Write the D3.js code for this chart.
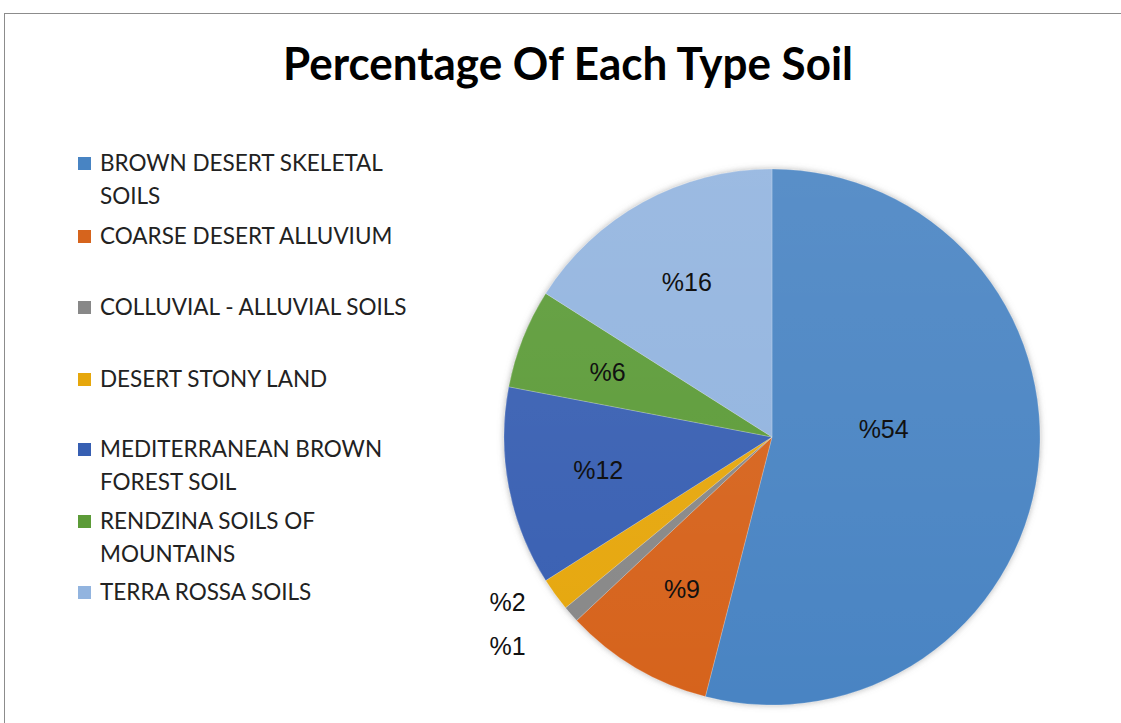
<!DOCTYPE html>
<html>
<head>
<meta charset="utf-8">
<script src="https://cdn.jsdelivr.net/npm/d3@7"></script>
<style>
  body { margin: 0; background: #fff; }
  svg { display: block; }
</style>
</head>
<body>
<script>
// soil types and their share (%)
var soils = ["BROWN DESERT SKELETAL SOILS", "COARSE DESERT ALLUVIUM", "COLLUVIAL - ALLUVIAL SOILS",
    "DESERT STONY LAND", "MEDITERRANEAN BROWN FOREST SOIL", "RENDZINA SOILS OF MOUNTAINS", "TERRA ROSSA SOILS"];
var legendLines = [["BROWN DESERT SKELETAL", "SOILS"], ["COARSE DESERT ALLUVIUM"], ["COLLUVIAL - ALLUVIAL SOILS"],
    ["DESERT STONY LAND"], ["MEDITERRANEAN BROWN", "FOREST SOIL"], ["RENDZINA SOILS OF", "MOUNTAINS"], ["TERRA ROSSA SOILS"]];
var shares = [54, 9, 1, 2, 12, 6, 16];
var colors = ["#4884c3", "#d6641d", "#888888", "#e6a70c", "#375fb2", "#5c9b38", "#92b4df"];
var title = "Percentage Of Each Type Soil";

var W = 1121, H = 723;
var cx = 772, cy = 437, R = 268;

var svg = d3.select("body").append("svg").attr("width", W).attr("height", H);

// frame
svg.append("rect").attr("x", 4.5).attr("y", 13.5).attr("width", W + 10).attr("height", H + 10)
    .attr("fill", "#fff").attr("stroke", "#8c8c8c").attr("stroke-width", 1);

var defs = svg.append("defs");
var f = defs.append("filter").attr("id", "glow").attr("x", "-10%").attr("y", "-10%").attr("width", "120%").attr("height", "120%");
f.append("feDropShadow").attr("dx", 0).attr("dy", 0).attr("stdDeviation", 3).attr("flood-color", "#777").attr("flood-opacity", 0.55);
var lg = defs.append("linearGradient").attr("id", "shade").attr("x1", 0).attr("y1", 0).attr("x2", 0).attr("y2", 1);
lg.append("stop").attr("offset", "0%").attr("stop-color", "#fff").attr("stop-opacity", 0.09);
lg.append("stop").attr("offset", "100%").attr("stop-color", "#fff").attr("stop-opacity", 0);

// title
svg.append("text").text(title).attr("x", 568).attr("y", 80)
    .attr("text-anchor", "middle").attr("font-family", "Lato, 'Open Sans', sans-serif")
    .attr("font-weight", "bold").attr("font-size", 45)
    .attr("textLength", 570).attr("lengthAdjust", "spacingAndGlyphs").attr("fill", "#000");

// pie
var pie = d3.pie().sort(null).value(function (d) { return d; });
var arcs = pie(shares);
var arc = d3.arc().innerRadius(0).outerRadius(R);

var g = svg.append("g").attr("transform", "translate(" + cx + "," + cy + ")");
var pg = g.append("g").attr("filter", "url(#glow)");
pg.selectAll("path").data(arcs).enter().append("path")
    .attr("d", arc)
    .attr("fill", function (d, i) { return colors[i]; })
    .attr("stroke", "rgba(255,255,255,0.35)").attr("stroke-width", 0.6);
g.append("circle").attr("r", R).attr("fill", "url(#shade)");

// data labels
var labelFont = "'Liberation Sans', Arial, sans-serif";
var labelSize = 25;
var outside = [];
arcs.forEach(function (d, i) {
    var a = (d.startAngle + d.endAngle) / 2;
    var k;
    if (d.value >= 50) k = 0.42;
    else if (d.value >= 3) k = 0.66;
    else { outside.push({ a: a, v: d.value }); return; }
    g.append("text").text("%" + d.value)
        .attr("x", Math.sin(a) * R * k).attr("y", -Math.cos(a) * R * k - (d.value >= 50 ? 22 : 0))
        .attr("dy", "0.35em").attr("text-anchor", "middle")
        .attr("font-family", labelFont).attr("font-size", labelSize).attr("fill", "#111");
});
// small slices: outside, stacked
var gap = 44;
var ox = d3.min(outside, function (o) { return Math.sin(o.a) * R * 1.22; });
var oy = d3.mean(outside, function (o) { return -Math.cos(o.a) * R * 1.12; });
outside.sort(function (a, b) { return -Math.cos(a.a) + Math.cos(b.a); });
outside.forEach(function (o, j) {
    g.append("text").text("%" + o.v)
        .attr("x", ox).attr("y", oy + (j - (outside.length - 1) / 2) * gap)
        .attr("dy", "0.35em").attr("text-anchor", "middle")
        .attr("font-family", labelFont).attr("font-size", labelSize).attr("fill", "#111");
});

// legend
var legendY = [163, 236, 307, 379, 449, 521, 592];
var leg = svg.append("g");
legendLines.forEach(function (lines, i) {
    var y = legendY[i];
    leg.append("rect").attr("x", 78).attr("y", y - 6).attr("width", 13).attr("height", 13).attr("fill", colors[i]);
    lines.forEach(function (l, j) {
        leg.append("text").text(l).attr("x", 100).attr("y", y + j * 33)
            .attr("dy", "0.36em").attr("font-family", "Lato, 'Open Sans', sans-serif")
            .attr("font-size", 22.5).attr("fill", "#222");
    });
});
</script>
</body>
</html>
